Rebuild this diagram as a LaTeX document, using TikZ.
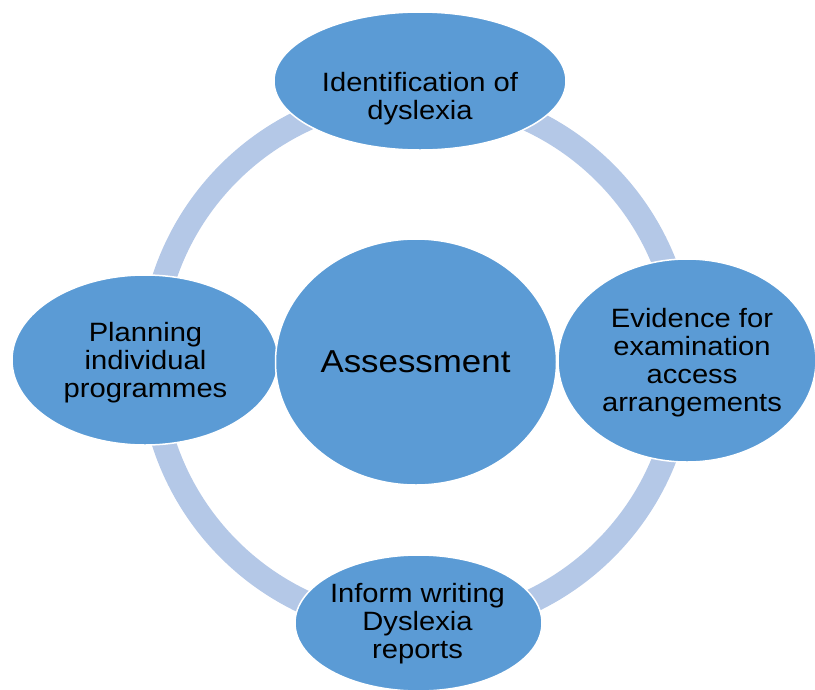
\documentclass[tikz,border=0pt]{standalone}
\usepackage{fontspec}
\setmainfont{Liberation Sans}[FakeStretch=1.1]
\usetikzlibrary{shapes.geometric}
\definecolor{nodeblue}{HTML}{5B9BD5}
\definecolor{ringblue}{HTML}{B4C8E7}
\tikzset{
  blob/.style={ellipse, fill=nodeblue, draw=white, line width=1.5pt, inner sep=0pt},
  lbl/.style={align=center, anchor=base, inner sep=0pt, text=black, font=\fontsize{26.5}{28}\selectfont},
}
\begin{document}
\begin{tikzpicture}[x=1pt,y=-1pt]
\useasboundingbox (0,0) rectangle (815,689);
% ring
\draw[ringblue, line width=24pt] (417,361) circle[radius=266];
% ellipses
\node[blob, minimum width=292pt, minimum height=138pt] (top) at (420,81) {};
\node[blob, minimum width=258pt, minimum height=203pt] (right) at (687,360.5) {};
\node[blob, minimum width=247pt, minimum height=136pt] (bottom) at (418.5,623) {};
\node[blob, minimum width=266pt, minimum height=170pt] (left) at (145,360) {};
\node[blob, minimum width=281pt, minimum height=246pt] (center) at (416,362) {};
% labels
\node[lbl] (toplbl) at (420,119.5) {Identification of\\dyslexia};
\node[lbl] (rightlbl) at (692,411.5) {Evidence for\\examination\\access\\arrangements};
\node[lbl] (bottomlbl) at (417.5,658.3) {Inform writing\\Dyslexia\\reports};
\node[lbl] (leftlbl) at (145.5,397.3) {Planning\\individual\\programmes};
\node[lbl, font=\fontsize{31.7}{34}\selectfont] (centerlbl) at (415.5,372.7) {Assessment};
\end{tikzpicture}
\end{document}
